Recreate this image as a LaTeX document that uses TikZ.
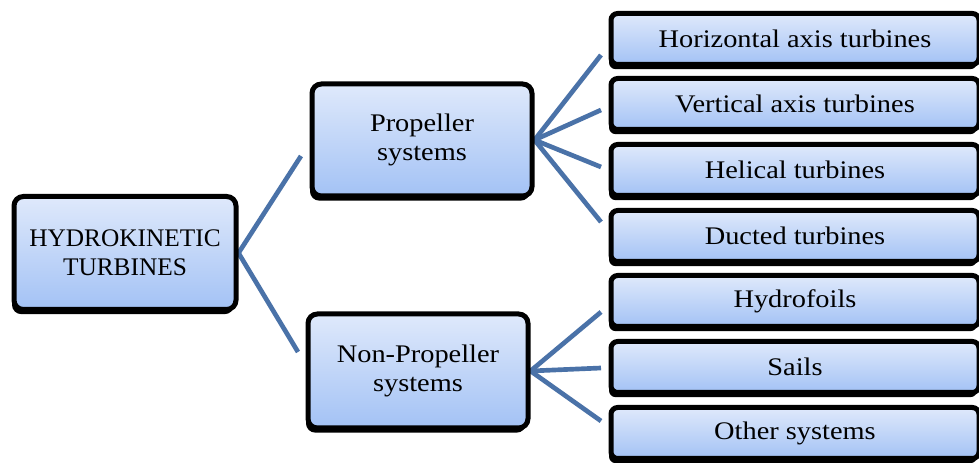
\documentclass[tikz,border=0pt]{standalone}
\usepackage{fontspec}
\setmainfont{Liberation Serif}
\newfontfamily\widefont[FakeStretch=1.12]{Liberation Serif}
\usetikzlibrary{shadows,backgrounds}
\definecolor{boxtop}{HTML}{DFE9FB}
\definecolor{boxbot}{HTML}{A3C2F5}
\definecolor{conn}{HTML}{4A72A8}
\tikzset{
  box/.style={draw=black, line width=3.75pt, rounded corners=7pt,
    top color=boxtop, bottom color=boxbot, align=center, inner sep=0pt,
    font=\widefont\fontsize{19}{22}\selectfont,
    drop shadow={shadow xshift=-1.5pt, shadow yshift=-3.5pt, fill=black, opacity=1}},
  bigbox/.style={box, minimum width=165pt},
  itembox/.style={box, rounded corners=5pt, minimum width=276pt, minimum height=38.25pt},
  connector/.style={draw=conn, line width=3.5pt}
}
\begin{document}
\begin{tikzpicture}[x=0.75pt, y=-0.75pt]
\useasboundingbox (0,0) rectangle (979,463);
\node[bigbox, minimum width=166.5pt, minimum height=84.75pt, font=\rmfamily\fontsize{19}{22}\selectfont] (hydro) at (125,253) {HYDROKINETIC\\TURBINES};
\node[bigbox, minimum height=84pt] (prop) at (422,140) {Propeller\\systems};
\node[bigbox, minimum height=85.5pt] (nonprop) at (418,371) {Non-Propeller\\systems};
\node[itembox] (h1) at (795,39) {Horizontal axis turbines};
\node[itembox] (h2) at (795,104) {Vertical axis turbines};
\node[itembox] (h3) at (795,170) {Helical turbines};
\node[itembox] (h4) at (795,236) {Ducted turbines};
\node[itembox] (n1) at (795,301) {Hydrofoils};
\node[itembox] (n2) at (795,367) {Sails};
\node[itembox] (n3) at (795,433) {Other systems};
\coordinate (ht) at (301,156);
\coordinate (hb) at (298,352);
\coordinate (p1) at (601,55);
\coordinate (p2) at (601,110);
\coordinate (p3) at (601,167);
\coordinate (p4) at (601,222);
\coordinate (q1) at (601,312);
\coordinate (q2) at (601,368);
\coordinate (q3) at (601,421);
\begin{scope}[on background layer]
\fill[white] (0,0) rectangle (979,463);
\draw[connector] (hydro.east) -- (ht);
\draw[connector] (hydro.east) -- (hb);
\draw[connector] (prop.east) -- (p1);
\draw[connector] (prop.east) -- (p2);
\draw[connector] (prop.east) -- (p3);
\draw[connector] (prop.east) -- (p4);
\draw[connector] (nonprop.east) -- (q1);
\draw[connector] (nonprop.east) -- (q2);
\draw[connector] (nonprop.east) -- (q3);
\end{scope}
\end{tikzpicture}
\end{document}
